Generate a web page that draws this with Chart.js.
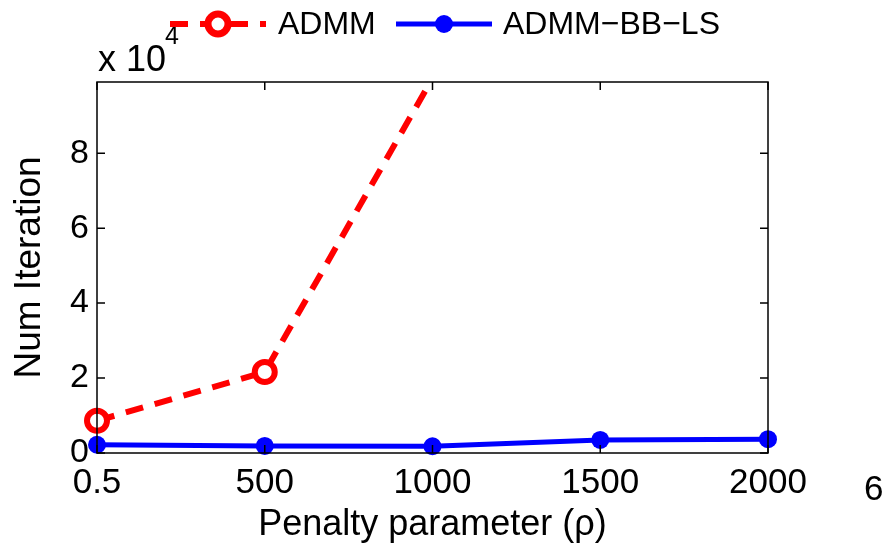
<!DOCTYPE html>
<html>
<head>
<meta charset="utf-8">
<script src="https://cdn.jsdelivr.net/npm/chart.js@4.4.1/dist/chart.umd.min.js"></script>
<style>
  html, body { margin: 0; padding: 0; background: #fff; }
  #wrap { width: 896px; height: 548px; }
</style>
</head>
<body>
<div id="wrap"><canvas id="chart" width="896" height="548"></canvas></div>
<script>
// chart data
const rhoLabels = ['0.5', '500', '1000', '1500', '2000'];
const admmIters = [0.86, 2.16, 10.0, null, null];      // x 10^4
const admmBBLSIters = [0.22, 0.19, 0.18, 0.35, 0.37];  // x 10^4
const yTicks = [0, 2, 4, 6, 8];
const yMax = 9.9;

const FONT = 'Liberation Sans, Arial, sans-serif';

// box + inward ticks, MATLAB style
const boxPlugin = {
  id: 'box',
  afterDatasetsDraw(chart) {
    const c = chart.ctx, a = chart.chartArea;
    const xs = chart.scales.x, ys = chart.scales.y;
    c.save();
    c.strokeStyle = '#000';
    c.lineWidth = 1.5;
    c.strokeRect(a.left, a.top, a.right - a.left, a.bottom - a.top);
    c.beginPath();
    rhoLabels.forEach(function (l, i) {
      const x = xs.getPixelForValue(i);
      c.moveTo(x, a.bottom); c.lineTo(x, a.bottom - 8);
      c.moveTo(x, a.top); c.lineTo(x, a.top + 8);
    });
    yTicks.forEach(function (v) {
      const y = ys.getPixelForValue(v);
      c.moveTo(a.left, y); c.lineTo(a.left + 8, y);
      c.moveTo(a.right, y); c.lineTo(a.right - 8, y);
    });
    c.stroke();
    c.restore();
  },
  afterDraw(chart) {
    const c = chart.ctx;
    c.save();
    c.fillStyle = '#000';
    c.textBaseline = 'alphabetic';
    // exponent label
    c.font = '36px ' + FONT;
    c.textAlign = 'left';
    c.fillText('x 10', 98, 71);
    c.font = '25px ' + FONT;
    c.fillText('4', 165, 44);
    // stray label from neighbouring panel
    c.font = '35px ' + FONT;
    c.fillText('6', 864, 500);

    // legend
    const ly = 24;
    // ADMM
    c.strokeStyle = '#ff0000';
    c.lineWidth = 6;
    c.setLineDash([18, 12]);
    c.beginPath(); c.moveTo(170, ly); c.lineTo(266, ly); c.stroke();
    c.setLineDash([]);
    c.beginPath(); c.arc(218, ly, 10, 0, Math.PI * 2);
    c.fillStyle = '#fff'; c.fill();
    c.lineWidth = 7; c.stroke();
    c.fillStyle = '#000';
    c.font = '32px ' + FONT;
    c.textBaseline = 'middle';
    c.fillText('ADMM', 278, ly + 1);
    // ADMM-BB-LS
    c.strokeStyle = '#0000ff';
    c.lineWidth = 5;
    c.beginPath(); c.moveTo(396, ly); c.lineTo(492, ly); c.stroke();
    c.beginPath(); c.arc(444, ly, 9, 0, Math.PI * 2);
    c.fillStyle = '#0000ff'; c.fill();
    c.fillStyle = '#000';
    c.fillText('ADMM\u2212BB\u2212LS', 503, ly + 1);
    c.restore();
  }
};

new Chart(document.getElementById('chart'), {
  type: 'line',
  data: {
    labels: rhoLabels,
    datasets: [{
      label: 'ADMM',
      data: admmIters,
      borderColor: '#ff0000',
      borderWidth: 6,
      borderDash: [18, 12],
      pointBackgroundColor: '#ffffff',
      pointBorderColor: '#ff0000',
      pointBorderWidth: 6,
      pointRadius: function (ctx) { return ctx.parsed && ctx.parsed.y > yMax ? 0 : 10; },
      clip: { left: 20, top: 0, right: 20, bottom: 20 },
      order: 1
    }, {
      label: 'ADMM-BB-LS',
      data: admmBBLSIters,
      borderColor: '#0000ff',
      backgroundColor: '#0000ff',
      borderWidth: 5,
      pointBackgroundColor: '#0000ff',
      pointBorderColor: '#0000ff',
      pointBorderWidth: 0,
      pointRadius: 9,
      clip: 20,
      order: 0
    }]
  },
  options: {
    responsive: false,
    animation: false,
    events: [],
    layout: { padding: { left: 0, right: 128, top: 82, bottom: 0 } },
    plugins: { legend: { display: false }, tooltip: { enabled: false } },
    scales: {
      x: {
        type: 'category',
        offset: false,
        grid: { display: false, drawTicks: false },
        border: { display: false },
        ticks: { color: '#000', font: { family: FONT, size: 35 }, padding: 9, maxRotation: 0, autoSkip: false },
        title: { display: true, text: 'Penalty parameter (\u03c1)', color: '#000', font: { family: FONT, size: 36 }, padding: { top: 0, bottom: 1 } },
        afterFit: function (s) { s.height = 95; }
      },
      y: {
        min: 0,
        max: yMax,
        grid: { display: false, drawTicks: false },
        border: { display: false },
        afterBuildTicks: function (s) { s.ticks = yTicks.map(function (v) { return { value: v }; }); },
        ticks: { color: '#000', font: { family: FONT, size: 34 }, padding: 8 },
        title: { display: true, text: 'Num Iteration', color: '#000', font: { family: FONT, size: 37 }, padding: { top: 8, bottom: 0 } },
        afterFit: function (s) { s.width = 97; }
      }
    }
  },
  plugins: [boxPlugin]
});
</script>
</body>
</html>
